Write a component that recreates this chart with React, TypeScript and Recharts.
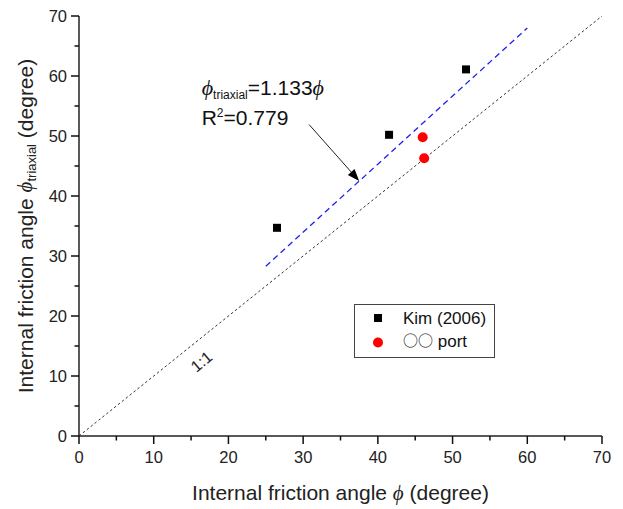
import React from 'react';
import {
  ScatterChart,
  Scatter,
  XAxis,
  YAxis,
  ReferenceLine,
  ReferenceDot,
  Legend,
} from 'recharts';

// ---- data ----
const kimX = [26.5, 41.5, 51.8];
const kimY = [34.7, 50.2, 61.1];
const portX = [46.0, 46.2];
const portY = [49.8, 46.3];

const fitX = [25, 60];
const fitY = [28.3, 68.0];
const oneX = [0, 70];
const oneY = [0, 70];
const arrowX = [30.8, 37.5];
const arrowY = [51.9, 42.5];

const axisTicks = [0, 5, 10, 15, 20, 25, 30, 35, 40, 45, 50, 55, 60, 65, 70];
const majorTickLabels = ['0', '10', '20', '30', '40', '50', '60', '70'];

const eqPos = { x: 16.42, y: 56.9 };
const r2Pos = { x: 16.42, y: 51.9 };
const oneLabelPos = { x: 16.4, y: 12.4 };

const kimName = 'Kim (2006)';
const portCircles = '○○';
const portWord = ' port';
const portName = portCircles + portWord;

const kimData = kimX.map((x, i) => ({ x, y: kimY[i] }));
const portData = portX.map((x, i) => ({ x, y: portY[i] }));

const FONT = "'Liberation Sans', Arial, Helvetica, sans-serif";
const PHI_FONT = "'Liberation Serif', 'DejaVu Serif', 'Times New Roman', serif";
const CJK_FONT = "'Noto Sans CJK KR', 'Noto Sans CJK SC', 'DejaVu Sans', sans-serif";
const PHI = 'ϕ';

const isMajor = (v: number) => majorTickLabels.includes(String(v));

const XTick = (props: any) => {
  const { x, y, payload } = props;
  const major = isMajor(payload.value);
  const len = major ? 8 : 4.5;
  return (
    <g>
      <rect x={x - 0.75} y={y} width={1.5} height={len} fill="#111" />
      {major && (
        <text x={x} y={y + 27} textAnchor="middle" fontFamily={FONT} fontSize={16.5} fill="#222">
          {payload.value}
        </text>
      )}
    </g>
  );
};

const YTick = (props: any) => {
  const { x, y, payload } = props;
  const major = isMajor(payload.value);
  const len = major ? 8 : 4.5;
  return (
    <g>
      <rect x={x - len} y={y - 0.75} width={len} height={1.5} fill="#111" />
      {major && (
        <text x={x - 12} y={y + 6} textAnchor="end" fontFamily={FONT} fontSize={16.5} fill="#222">
          {payload.value}
        </text>
      )}
    </g>
  );
};

const XTitle = (props: any) => {
  const vb = props.viewBox || {};
  const cx = vb.x + vb.width / 2;
  const y = vb.y + 64;
  return (
    <text x={cx} y={y} textAnchor="middle" fontFamily={FONT} fontSize={21} fill="#222">
      Internal friction angle{' '}
      <tspan fontFamily={PHI_FONT} fontStyle="italic">{PHI}</tspan> (degree)
    </text>
  );
};

const YTitle = (props: any) => {
  const vb = props.viewBox || {};
  const cx = vb.x + vb.width - 54;
  const cy = vb.y + vb.height / 2;
  return (
    <text
      x={cx}
      y={cy}
      transform={`rotate(-90, ${cx}, ${cy})`}
      textAnchor="middle"
      dominantBaseline="central"
      fontFamily={FONT}
      fontSize={21}
      fill="#222"
    >
      Internal friction angle{' '}
      <tspan fontFamily={PHI_FONT} fontStyle="italic">{PHI}</tspan>
      <tspan fontSize={13} dy={6}>triaxial</tspan>
      <tspan dy={-6}> (degree)</tspan>
    </text>
  );
};

const Arrow = (p: any) => {
  const { x1, y1, x2, y2 } = p;
  const ang = Math.atan2(y2 - y1, x2 - x1);
  const L = 12;
  const W = 4.5;
  const bx = x2 - L * Math.cos(ang);
  const by = y2 - L * Math.sin(ang);
  const lx = bx + W * Math.sin(ang);
  const ly = by - W * Math.cos(ang);
  const rx = bx - W * Math.sin(ang);
  const ry = by + W * Math.cos(ang);
  return (
    <g>
      <line x1={x1} y1={y1} x2={bx} y2={by} stroke="#222" strokeWidth={1} />
      <polygon points={`${x2},${y2} ${lx},${ly} ${rx},${ry}`} fill="#000" />
    </g>
  );
};

const EqText = (p: any) => (
  <text x={p.cx} y={p.cy} fontFamily={FONT} fontSize={21} fill="#111">
    <tspan fontFamily={PHI_FONT} fontStyle="italic" fontSize={22}>{PHI}</tspan>
    <tspan fontSize={12} dy={4}>triaxial</tspan>
    <tspan dy={-4}>=1.133</tspan>
    <tspan fontFamily={PHI_FONT} fontStyle="italic" fontSize={22}>{PHI}</tspan>
  </text>
);

const R2Text = (p: any) => (
  <text x={p.cx} y={p.cy} fontFamily={FONT} fontSize={21} fill="#111">
    R<tspan fontSize={12} dy={-8}>2</tspan>
    <tspan dy={8}>=0.779</tspan>
  </text>
);

const OneText = (p: any) => (
  <text
    x={p.cx}
    y={p.cy}
    transform={`rotate(-40, ${p.cx}, ${p.cy})`}
    textAnchor="middle"
    dominantBaseline="central"
    fontFamily={FONT}
    fontSize={16}
    fill="#222"
  >
    1:1
  </text>
);

const LegendBox = () => (
  <svg width={141} height={54} style={{ display: 'block' }}>
    <rect x={0.5} y={0.5} width={140} height={53} fill="#fff" stroke="#444" strokeWidth={1} />
    <rect x={20} y={10} width={8} height={8} fill="#000" />
    <text x={49} y={20} fontFamily={FONT} fontSize={17} fill="#111">{kimName}</text>
    <circle cx={24} cy={38.5} r={5} fill="#ff0000" />
    <text x={49} y={43} fontFamily={FONT} fontSize={17} fill="#111">
      <tspan fontFamily={CJK_FONT} fontSize={15} dy={-1}>{portCircles}</tspan>
      <tspan dy={1}>{portWord}</tspan>
    </text>
  </svg>
);

export default function App() {
  return (
    <div style={{ position: 'absolute', left: 0, top: 0, background: '#fff' }}>
      <ScatterChart
        width={623}
        height={509}
        margin={{ top: 16, right: 21, left: 19, bottom: 8 }}
      >
        <XAxis
          xAxisId={0}
          type="number"
          dataKey="x"
          domain={[0, 70]}
          ticks={axisTicks}
          interval={0}
          tickSize={0}
          tickMargin={0}
          tickLine={false}
          tick={<XTick />}
          height={65}
          axisLine={{ stroke: '#222', strokeWidth: 1.5 }}
          label={{ content: <XTitle /> }}
        />
        <XAxis
          xAxisId="top"
          orientation="top"
          type="number"
          domain={[0, 70]}
          height={0}
          tick={false}
          tickLine={false}
          axisLine={{ stroke: '#444', strokeWidth: 1.8 }}
        />
        <YAxis
          yAxisId={0}
          type="number"
          dataKey="y"
          domain={[0, 70]}
          ticks={axisTicks}
          interval={0}
          tickSize={0}
          tickMargin={0}
          tickLine={false}
          tick={<YTick />}
          width={60}
          axisLine={{ stroke: '#222', strokeWidth: 1.5 }}
          label={{ content: <YTitle /> }}
        />
        <YAxis
          yAxisId="right"
          orientation="right"
          type="number"
          domain={[0, 70]}
          width={0}
          tick={false}
          tickLine={false}
          axisLine={{ stroke: '#333', strokeWidth: 1.5 }}
        />
        <ReferenceLine
          segment={[{ x: oneX[0], y: oneY[0] }, { x: oneX[1], y: oneY[1] }]}
          stroke="#333"
          strokeWidth={1}
          strokeDasharray="2.5 2.5"
          ifOverflow="visible"
        />
        <ReferenceLine
          segment={[{ x: fitX[0], y: fitY[0] }, { x: fitX[1], y: fitY[1] }]}
          stroke="#2020f0"
          strokeWidth={1.3}
          strokeDasharray="6 4"
          ifOverflow="visible"
        />
        <ReferenceLine
          segment={[{ x: arrowX[0], y: arrowY[0] }, { x: arrowX[1], y: arrowY[1] }]}
          shape={Arrow}
          ifOverflow="visible"
        />
        <ReferenceDot x={eqPos.x} y={eqPos.y} r={0} shape={EqText} ifOverflow="visible" />
        <ReferenceDot x={r2Pos.x} y={r2Pos.y} r={0} shape={R2Text} ifOverflow="visible" />
        <ReferenceDot x={oneLabelPos.x} y={oneLabelPos.y} r={0} shape={OneText} ifOverflow="visible" />
        <Scatter
          name={kimName}
          data={kimData}
          isAnimationActive={false}
          shape={(p: any) => <rect x={p.cx - 4} y={p.cy - 4} width={8} height={8} fill="#000" />}
        />
        <Scatter
          name={portName}
          data={portData}
          isAnimationActive={false}
          shape={(p: any) => <circle cx={p.cx} cy={p.cy} r={5} fill="#ff0000" />}
        />
        <Legend
          layout="vertical"
          align="center"
          verticalAlign="middle"
          content={<LegendBox />}
          wrapperStyle={{ position: 'absolute', left: 354, top: 304, width: 141, height: 54 }}
        />
      </ScatterChart>
    </div>
  );
}
